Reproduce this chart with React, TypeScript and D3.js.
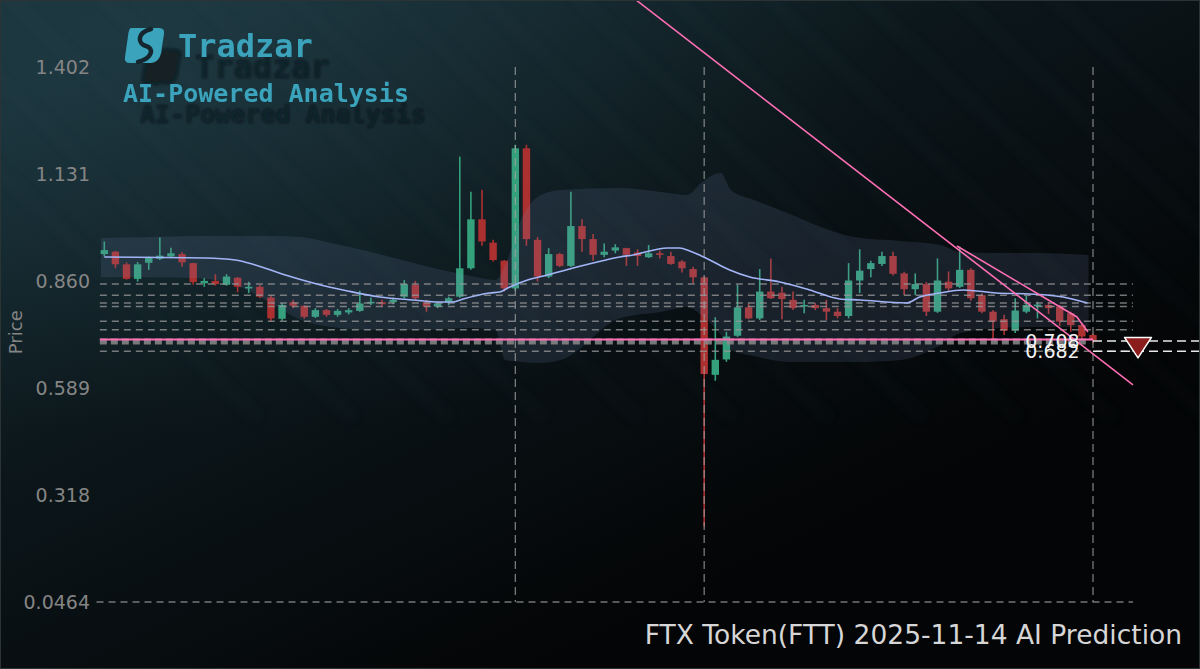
import React from "react";
import * as d3 from "d3";

const W = 1200;
const H = 669;

// ---- Candles (daily OHLC), index 0..89 ----
const opens = [
  0.928, 0.934, 0.902, 0.865, 0.906, 0.916, 0.922, 0.928, 0.905, 0.854,
  0.860, 0.850, 0.868, 0.843, 0.845, 0.818, 0.764, 0.806, 0.797, 0.769,
  0.786, 0.774, 0.780, 0.784, 0.803, 0.806, 0.806, 0.820, 0.850, 0.806,
  0.795, 0.806, 0.820, 0.892, 1.016, 0.957, 0.911, 0.841, 1.196, 0.964,
  0.871, 0.928, 0.898, 0.999, 0.966, 0.926, 0.937, 0.943, 0.932, 0.920,
  0.930, 0.923, 0.909, 0.890, 0.869, 0.622, 0.661, 0.721, 0.793, 0.765,
  0.833, 0.830, 0.812, 0.795, 0.799, 0.791, 0.782, 0.771, 0.861, 0.890,
  0.903, 0.923, 0.879, 0.839, 0.852, 0.782, 0.858, 0.845, 0.888, 0.824,
  0.782, 0.763, 0.734, 0.782, 0.797, 0.799, 0.795, 0.778, 0.748, 0.723,
];
const highs = [
  0.960, 0.936, 0.907, 0.908, 0.922, 0.970, 0.944, 0.933, 0.906, 0.867,
  0.877, 0.877, 0.870, 0.858, 0.850, 0.823, 0.804, 0.812, 0.798, 0.791,
  0.789, 0.789, 0.791, 0.835, 0.818, 0.812, 0.818, 0.862, 0.860, 0.812,
  0.807, 0.820, 1.175, 1.086, 1.091, 0.964, 0.913, 1.205, 1.205, 0.971,
  0.943, 0.931, 1.086, 1.016, 0.979, 0.955, 0.953, 0.944, 0.940, 0.951,
  0.937, 0.934, 0.913, 0.896, 0.871, 0.768, 0.731, 0.850, 0.803, 0.890,
  0.917, 0.845, 0.833, 0.812, 0.804, 0.812, 0.791, 0.905, 0.940, 0.911,
  0.934, 0.934, 0.883, 0.879, 0.857, 0.917, 0.884, 0.947, 0.892, 0.829,
  0.786, 0.774, 0.816, 0.822, 0.807, 0.806, 0.799, 0.782, 0.753, 0.727,
];
const lows = [
  0.922, 0.892, 0.863, 0.858, 0.888, 0.913, 0.919, 0.896, 0.850, 0.845,
  0.848, 0.848, 0.831, 0.829, 0.816, 0.757, 0.759, 0.791, 0.764, 0.766,
  0.769, 0.769, 0.775, 0.782, 0.799, 0.795, 0.801, 0.816, 0.812, 0.782,
  0.791, 0.799, 0.817, 0.888, 0.949, 0.909, 0.833, 0.835, 0.949, 0.858,
  0.867, 0.895, 0.895, 0.934, 0.911, 0.920, 0.930, 0.898, 0.898, 0.918,
  0.917, 0.901, 0.881, 0.854, 0.237, 0.607, 0.655, 0.718, 0.763, 0.761,
  0.814, 0.763, 0.786, 0.778, 0.786, 0.761, 0.765, 0.765, 0.829, 0.869,
  0.898, 0.874, 0.824, 0.824, 0.771, 0.779, 0.835, 0.842, 0.810, 0.778,
  0.710, 0.723, 0.728, 0.778, 0.765, 0.776, 0.746, 0.731, 0.710, 0.702,
];
const closes = [
  0.938, 0.902, 0.865, 0.902, 0.918, 0.924, 0.930, 0.907, 0.857, 0.860,
  0.852, 0.871, 0.845, 0.845, 0.820, 0.765, 0.799, 0.797, 0.769, 0.786,
  0.774, 0.784, 0.786, 0.803, 0.807, 0.801, 0.812, 0.852, 0.816, 0.795,
  0.803, 0.816, 0.892, 1.016, 0.960, 0.913, 0.841, 1.196, 0.966, 0.871,
  0.928, 0.898, 0.999, 0.966, 0.926, 0.934, 0.945, 0.926, 0.923, 0.930,
  0.926, 0.903, 0.892, 0.869, 0.624, 0.660, 0.719, 0.793, 0.765, 0.833,
  0.816, 0.814, 0.791, 0.799, 0.791, 0.782, 0.771, 0.861, 0.886, 0.905,
  0.923, 0.878, 0.839, 0.852, 0.782, 0.861, 0.841, 0.888, 0.816, 0.782,
  0.757, 0.734, 0.785, 0.799, 0.800, 0.791, 0.757, 0.748, 0.719, 0.710,
];

// ---- Moving average (read at sample positions) ----
const maIdx = [0, 9.1, 11.8, 13.6, 16.3, 18.8, 21.9, 24.8, 27.8, 30.2, 31.4, 32.3, 34.7, 35.6, 36.5, 38.1, 39.9, 42.2, 44, 46.4, 47.6, 50.7, 51.8, 52.7, 54.5, 56.3, 58.1, 60.8, 63.5, 66.2, 68, 72.2, 73.4, 75.2, 77.3, 80.3, 83.3, 86.3, 88.5];
const maVal = [0.9207, 0.9182, 0.9131, 0.9004, 0.8751, 0.8548, 0.8346, 0.8193, 0.8117, 0.8067, 0.8067, 0.8143, 0.8295, 0.832, 0.8447, 0.8624, 0.8751, 0.8928, 0.9055, 0.9207, 0.9258, 0.9435, 0.9435, 0.9359, 0.9131, 0.8878, 0.8701, 0.8574, 0.8371, 0.8143, 0.8117, 0.8041, 0.8193, 0.8295, 0.8371, 0.8295, 0.827, 0.8193, 0.8041];

// ---- Envelope band ----
const bandIdx = [-0.3, 4.1, 8.6, 12.3, 15, 17.7, 20.4, 24, 28.5, 33, 35.2, 36.1, 37.5, 39.3, 41.1, 46.5, 50.1, 52.5, 53.7, 55.5, 56.4, 58.5, 61.5, 64.5, 67.5, 71.7, 75.3, 77.1, 80.7, 84.3, 88.6];
const bandUpper = [0.9688, 0.9714, 0.974, 0.974, 0.974, 0.9714, 0.9562, 0.9334, 0.9004, 0.8726, 0.8624, 0.9004, 1.0145, 1.0778, 1.0905, 1.0956, 1.0854, 1.0778, 1.1082, 1.1336, 1.0905, 1.0652, 1.0322, 0.9967, 0.9714, 0.9613, 0.9511, 0.9334, 0.9309, 0.9309, 0.9258];
const bandLower = [0.869, 0.869, 0.8665, 0.8437, 0.8041, 0.7611, 0.7433, 0.7357, 0.7357, 0.7408, 0.7357, 0.6597, 0.6546, 0.6521, 0.6597, 0.7661, 0.7813, 0.794, 0.7737, 0.7231, 0.6851, 0.6698, 0.6546, 0.6546, 0.6546, 0.6597, 0.6977, 0.7281, 0.7408, 0.7433, 0.7433];

// ---- Levels ----
const levelValues = [0.852, 0.8236, 0.804, 0.795, 0.758, 0.736, 0.682];
const zoneLevel = 0.7065;
const currentPrice = 0.7116;
const keyLevels = [0.708, 0.682];
const keyLabels = ["0.708", "0.682"];
const markerIdx = [37, 54, 89];
const predictionIdx = 93.05;

// ---- Trend lines ----
const trend1Idx = [47.86, 92.6];
const trend1Val = [1.572, 0.5964];
const trend2Idx = [76.75, 87.55, 88.55];
const trend2Val = [0.9486, 0.7687, 0.7307];

// ---- Axis ----
const yTickValues = [0.0464, 0.31752, 0.58864, 0.85976, 1.13088, 1.402];
const yTickLabels = ["0.0464", "0.318", "0.589", "0.860", "1.131", "1.402"];

const title = "FTX Token(FTT) 2025-11-14 AI Prediction";

const x = d3.scaleLinear().domain([0, 89]).range([104.3, 1093]);
const y = d3.scaleLinear().domain([0.0464, 1.402]).range([602, 67]);

const GREEN = "#34a07c";
const RED = "#ad3030";
const PINK = "#ff6fb5";

export default function App() {
  const idx = d3.range(opens.length);

  const maPath = d3
    .line<number>()
    .x((_, i) => x(maIdx[i]))
    .y((d) => y(d))
    .curve(d3.curveMonotoneX)(maVal) as string;

  const bandPath = d3
    .area<number>()
    .x((_, i) => x(bandIdx[i]))
    .y0((_, i) => y(bandLower[i]))
    .y1((d) => y(d))
    .curve(d3.curveMonotoneX)(bandUpper) as string;

  const trend1 = d3
    .line<number>()
    .x((_, i) => x(trend1Idx[i]))
    .y((d) => y(d))(trend1Val) as string;
  const trend2 = d3
    .line<number>()
    .x((_, i) => x(trend2Idx[i]))
    .y((d) => y(d))(trend2Val) as string;

  const left = x(-0.4);
  const right = x(92.6);
  const bodyW = 7.4;

  const streaks = d3.range(14);

  const py = y(keyLevels[0]);
  const px = x(predictionIdx);

  return (
    <svg
      width={W}
      height={H}
      viewBox={`0 0 ${W} ${H}`}
      style={{ position: "absolute", left: 0, top: 0, display: "block" }}
      fontFamily="DejaVu Sans, sans-serif"
    >
      <defs>
        <linearGradient id="bg" gradientUnits="userSpaceOnUse" x1="200" y1="0" x2="520" y2="669">
          <stop offset="0" stopColor="#183038" />
          <stop offset="0.45" stopColor="#0c171b" />
          <stop offset="1" stopColor="#040506" />
        </linearGradient>
        <radialGradient id="glow" cx="0.15" cy="0.05" r="0.6">
          <stop offset="0" stopColor="#2a4a55" stopOpacity="0.35" />
          <stop offset="1" stopColor="#2a4a55" stopOpacity="0" />
        </radialGradient>
        <filter id="logoShadow" filterUnits="userSpaceOnUse" x="100" y="0" width="380" height="150">
          <feOffset in="SourceAlpha" dx="17" dy="21" result="off" />
          <feGaussianBlur in="off" stdDeviation="1.6" result="blurred" />
          <feFlood floodColor="#0b1013" floodOpacity="0.6" />
          <feComposite in2="blurred" operator="in" result="shadow" />
          <feMerge>
            <feMergeNode in="shadow" />
            <feMergeNode in="SourceGraphic" />
          </feMerge>
        </filter>
        <filter id="streakBlur">
          <feGaussianBlur stdDeviation="6" />
        </filter>
        <clipPath id="clipAll">
          <rect x={0} y={0} width={W} height={H} />
        </clipPath>
      </defs>

      <rect x={0} y={0} width={W} height={H} fill="url(#bg)" />
      <rect x={0} y={0} width={W} height={H} fill="url(#glow)" />
      <g filter="url(#streakBlur)" opacity={0.5}>
        {streaks.map((k) => (
          <line
            key={k}
            x1={k * 95 - 200}
            y1={-20}
            x2={k * 95 + 260}
            y2={420}
            stroke="#3b5a66"
            strokeOpacity={0.08}
            strokeWidth={14}
          />
        ))}
      </g>

      {/* Logo */}
      <g filter="url(#logoShadow)">
        <path d="M131,28 H159 Q165,28 164,34 L161,53 Q159,62 151,63 H130 Q124,63 125,57 L128,36 Q129,28 131,28 Z" fill="#3aa3bb" />
        <path d="M151,29 C136,33 138,44 146,46 C154,48 153,58 138,62" fill="none" stroke="#14262d" strokeWidth={4.5} strokeLinecap="round" />
        <text x={178} y={57} fontFamily="DejaVu Sans Mono, monospace" fontWeight="bold" fontSize={32} fill="#3aa3bb">Tradzar</text>
        <text x={123} y={102} fontFamily="DejaVu Sans Mono, monospace" fontWeight="bold" fontSize={25} fill="#3aa3bb">AI-Powered Analysis</text>
      </g>

      {/* Y axis labels */}
      {yTickValues.map((v, i) => (
        <text key={i} x={90} y={y(v)} dy="0.35em" textAnchor="end" fontSize={19} fill="#858585">
          {yTickLabels[i]}
        </text>
      ))}
      <text transform={`translate(22,${y(0.73)}) rotate(-90)`} textAnchor="middle" fontSize={18} fill="#858585">
        Price
      </text>

      {/* Candles */}
      <g>
        {idx.map((i) => {
          const up = closes[i] >= opens[i];
          const c = up ? GREEN : RED;
          const top = y(Math.max(opens[i], closes[i]));
          const bot = y(Math.min(opens[i], closes[i]));
          return (
            <g key={i}>
              <line x1={x(i)} x2={x(i)} y1={y(highs[i])} y2={y(lows[i])} stroke={c} strokeWidth={1.6} />
              <rect x={x(i) - bodyW / 2} y={top} width={bodyW} height={Math.max(1.6, bot - top)} fill={c} />
            </g>
          );
        })}
      </g>

      {/* Band */}
      <path d={bandPath} fill="#7d93c4" fillOpacity={0.14} />

      {/* Horizontal levels */}
      <g>
        {levelValues.map((v, i) => (
          <line key={i} x1={left} x2={right} y1={y(v)} y2={y(v)} stroke="#9a9a9a" strokeOpacity={0.75} strokeWidth={1.5} strokeDasharray="7,5" />
        ))}
        <line x1={x(-0.7)} x2={right} y1={y(0.0464)} y2={y(0.0464)} stroke="#9a9a9a" strokeOpacity={0.75} strokeWidth={1.3} strokeDasharray="7,5" />
        <line x1={left} x2={x(88.7)} y1={y(zoneLevel)} y2={y(zoneLevel)} stroke="#8a8a8a" strokeOpacity={0.85} strokeWidth={6} strokeDasharray="7,4" />
      </g>

      {/* Vertical markers */}
      {markerIdx.map((m) => (
        <line key={m} x1={x(m)} x2={x(m)} y1={y(1.402)} y2={y(0.0464)} stroke="#a0a0a0" strokeOpacity={0.75} strokeWidth={1.3} strokeDasharray="8,5" />
      ))}

      {/* MA */}
      <path d={maPath} fill="none" stroke="#a3b5f7" strokeWidth={1.6} />

      {/* Current price line */}
      <line x1={left} x2={x(89)} y1={y(currentPrice)} y2={y(currentPrice)} stroke={PINK} strokeWidth={2} />

      {/* Trend lines */}
      <g clipPath="url(#clipAll)">
        <path d={trend1} fill="none" stroke={PINK} strokeWidth={1.6} />
        <path d={trend2} fill="none" stroke={PINK} strokeWidth={1.6} />
      </g>

      {/* Key levels extended to the right */}
      {keyLevels.map((v, i) => (
        <line key={i} x1={x(89)} x2={W} y1={y(v)} y2={y(v)} stroke="#e8e8e8" strokeWidth={1.5} strokeDasharray="9,5" />
      ))}
      {keyLevels.map((v, i) => (
        <text key={i} x={x(87.8)} y={y(v)} dy="0.36em" textAnchor="end" fontSize={19} fill="#f2f2f2">
          {keyLabels[i]}
        </text>
      ))}

      {/* Prediction marker */}
      <path
        d={`M${px - 13.5},${py - 3.5} L${px + 13.5},${py - 3.5} L${px},${py + 17} Z`}
        fill="#8b1d1d"
        stroke="#ffffff"
        strokeWidth={1.5}
        strokeLinejoin="round"
      />

      {/* Title */}
      <text x={1182} y={644} textAnchor="end" fontSize={26.5} fill="#d6d6d6">
        {title}
      </text>

      <rect x={0.5} y={0.5} width={W - 1} height={H - 1} fill="none" stroke="#2c3335" />
    </svg>
  );
}
